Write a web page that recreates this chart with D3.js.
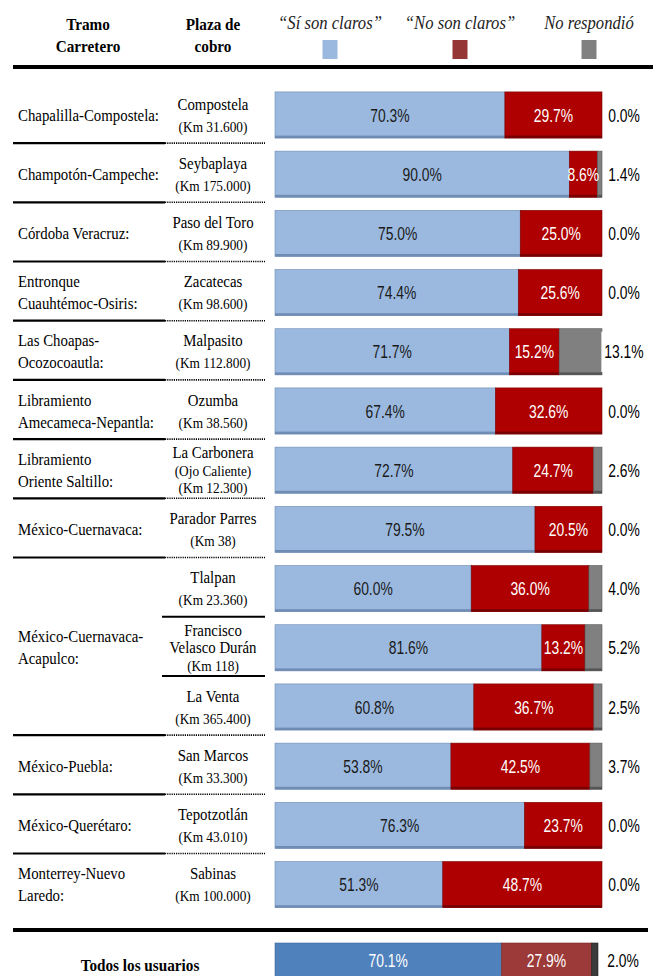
<!DOCTYPE html>
<html><head><meta charset="utf-8">
<script src="https://cdn.jsdelivr.net/npm/d3@7"></script>
<style>html,body{margin:0;padding:0;background:#fff;overflow:hidden}</style>
</head><body>
<svg id="chart" width="653" height="976"></svg>
<script>
// ---- data ----
const tramos = [["Chapalilla-Compostela:"],["Champotón-Campeche:"],["Córdoba Veracruz:"],["Entronque","Cuauhtémoc-Osiris:"],["Las Choapas-","Ocozocoautla:"],["Libramiento","Amecameca-Nepantla:"],["Libramiento","Oriente Saltillo:"],["México-Cuernavaca:"],["México-Cuernavaca-","Acapulco:"],["México-Puebla:"],["México-Querétaro:"],["Monterrey-Nuevo","Laredo:"]];
const tramoSpan = [1,1,1,1,1,1,1,1,3,1,1,1];
const plazas = [["Compostela","(Km 31.600)"],["Seybaplaya","(Km 175.000)"],["Paso del Toro","(Km 89.900)"],["Zacatecas","(Km 98.600)"],["Malpasito","(Km 112.800)"],["Ozumba","(Km 38.560)"],["La Carbonera","(Ojo Caliente)","(Km 12.300)"],["Parador Parres","(Km 38)"],["Tlalpan","(Km 23.360)"],["Francisco","Velasco Durán","(Km 118)"],["La Venta","(Km 365.400)"],["San Marcos","(Km 33.300)"],["Tepotzotlán","(Km 43.010)"],["Sabinas","(Km 100.000)"]];
const siClaros = [70.3,90.0,75.0,74.4,71.7,67.4,72.7,79.5,60.0,81.6,60.8,53.8,76.3,51.3];
const noClaros = [29.7,8.6,25.0,25.6,15.2,32.6,24.7,20.5,36.0,13.2,36.7,42.5,23.7,48.7];
const noResp   = [0.0,1.4,0.0,0.0,13.1,0.0,2.6,0.0,4.0,5.2,2.5,3.7,0.0,0.0];
const totalLabel = "Todos los usuarios";
const total = [70.1,27.9,2.0];
const legendLabels = ["“Sí son claros”","“No son claros”","No respondió"];

// ---- setup ----
const svg = d3.select("#chart");
const serif = "'Liberation Serif','Times New Roman',serif";
const sans = "'Liberation Sans',Arial,sans-serif";
const keys = ["si","no","nr"];
const colors = {si:"#9BB9DF", no:"#AE0000", nr:"#808080"};
const darks = {si:"#6F8CB5", no:"#780000", nr:"#555"};
const totColors = {si:"#4F81BD", no:"#9B3A38", nr:"#3A3A3A"};
const totDarks = {si:"#3F6A9E", no:"#7a2b2a", nr:"#222"};

// text drawn at (tx,ty) and condensed horizontally by factor f
function txt(parent, tx, ty, str, f, opts){
  const t = parent.append("text").attr("x",0).attr("y",0)
    .attr("transform",`translate(${tx},${ty}) scale(${f},1)`).text(str);
  Object.entries(opts).forEach(([k,v])=>t.attr(k,v));
  return t;
}
function pct(parent, xx, yy, str, fill){
  return txt(parent, xx, yy, str, 0.75, {"text-anchor":"middle","font-family":sans,"font-size":18.5,"fill":fill});
}

const rows = plazas.map((p,i)=>({i, si:siClaros[i], no:noClaros[i], nr:noResp[i]}));
const x = d3.scaleLinear().domain([0,100]).range([275,602]);
const y = d3.scaleBand().domain(d3.range(rows.length)).range([85.4,914.2]).paddingInner(0.22).paddingOuter(0.11);
const bh = y.bandwidth();
const stack = d3.stack().keys(keys);
const series = stack(rows);

// header
const hdr = svg.append("g").attr("font-family",serif);
[["Tramo",88,30],["Carretero",88,52],["Plaza de",213,30],["cobro",213,52]].forEach(([t,cx,cy])=>{
  txt(hdr, cx, cy, t, 0.87, {"text-anchor":"middle","font-size":17.5,"font-weight":"bold","fill":"#000"});
});
const legX = [330,460,589];
legendLabels.forEach((t,k)=>{
  txt(hdr, legX[k], 29, t, 0.9, {"text-anchor":"middle","font-size":18.5,"font-style":"italic","fill":"#222"});
  hdr.append("rect").attr("x",legX[k]-7.5).attr("y",40).attr("width",15).attr("height",19)
    .attr("fill",[colors.si,"#953735",colors.nr][k]);
});
svg.append("rect").attr("x",13).attr("y",65).attr("width",640).attr("height",4).attr("fill","#000");

// bars
const g = svg.append("g");
series.forEach(s=>{
  const k = s.key;
  const seg = g.selectAll(null).data(s).join("g");
  seg.append("rect").attr("x",d=>x(d[0])).attr("y",(d,j)=>y(j))
    .attr("width",d=>Math.max(0,x(d[1])-x(d[0]))).attr("height",bh)
    .attr("fill",colors[k]).attr("stroke",d=>x(d[1])-x(d[0])>0.5?darks[k]:"none").attr("stroke-width",0.6);
  seg.append("rect").attr("x",d=>x(d[0])).attr("y",(d,j)=>y(j)+bh-2.5)
    .attr("width",d=>Math.max(0,x(d[1])-x(d[0]))).attr("height",2.5).attr("fill",darks[k]);
});
// labels
rows.forEach((r,i)=>{
  const cy = y(i)+bh/2+6.5;
  pct(g, (x(0)+x(r.si))/2, cy, r.si.toFixed(1)+"%", "#1a1a1a");
  pct(g, (x(r.si)+x(r.si+r.no))/2, cy, r.no.toFixed(1)+"%", "#fff");
  const t = pct(g, 624, cy, r.nr.toFixed(1)+"%", "#000");
  const w = t.node().getComputedTextLength()*0.75;
  g.insert("rect", function(){ return t.node(); }).attr("x",624-w/2-3).attr("y",y(i)+3).attr("width",w+6).attr("height",bh-6).attr("fill","#fff");
});

// left columns
const lt = svg.append("g").attr("font-family",serif).attr("fill","#000");
let ri = 0;
tramos.forEach((t,k)=>{
  const span = tramoSpan[k];
  const cy = (y(ri) + y(ri+span-1) + bh)/2;
  const n = t.length;
  t.forEach((line,l)=>{
    txt(lt, 18, cy + (l-(n-1)/2)*22 + 5.5, line, 0.9, {"font-size":16.5});
  });
  const lastRow = ri+span-1;
  if (lastRow < rows.length-1) {
    const sy = y(lastRow)+bh+5;
    lt.append("line").attr("x1",13).attr("x2",165).attr("y1",sy).attr("y2",sy).attr("stroke","#000").attr("stroke-width",2.2);
    lt.append("line").attr("x1",165).attr("x2",265).attr("y1",sy).attr("y2",sy).attr("stroke","#000").attr("stroke-width",1.6).attr("stroke-dasharray","1.2,1");
  }
  for (let j=ri; j<lastRow; j++){
    const sy = y(j)+bh+5;
    lt.append("line").attr("x1",162).attr("x2",265).attr("y1",sy).attr("y2",sy).attr("stroke","#000").attr("stroke-width",2);
  }
  ri += span;
});
plazas.forEach((p,i)=>{
  const cy = y(i)+bh/2;
  const n = p.length;
  const step = n===3 ? 17.5 : 22;
  p.forEach((line,l)=>{
    const isKm = line.startsWith("(");
    txt(lt, 213, cy + (l-(n-1)/2)*step + 5.5, line, isKm?0.92:0.9, {"text-anchor":"middle","font-size":isKm?14.5:16.5});
  });
});

// total
svg.append("rect").attr("x",13).attr("y",928).attr("width",635).attr("height",4).attr("fill","#000");
const xt = d3.scaleLinear().domain([0,100]).range([275,598]);
const totRow = [{si:total[0],no:total[1],nr:total[2]}];
const tSeries = stack(totRow);
const ty = 943;
tSeries.forEach(s=>{
  const d = s[0];
  svg.append("rect").attr("x",xt(d[0])).attr("y",ty).attr("width",xt(d[1])-xt(d[0])).attr("height",bh)
    .attr("fill",totColors[s.key]).attr("stroke",totDarks[s.key]).attr("stroke-width",0.6);
});
const tcy = ty+24;
pct(svg, (xt(0)+xt(total[0]))/2, tcy, total[0].toFixed(1)+"%", "#fff");
pct(svg, (xt(total[0])+xt(total[0]+total[1]))/2, tcy, total[1].toFixed(1)+"%", "#fff");
pct(svg, 623, tcy, total[2].toFixed(1)+"%", "#000");
txt(svg, 140, 971, totalLabel, 0.87, {"text-anchor":"middle","font-family":serif,"font-size":17.5,"font-weight":"bold"});
</script>
</body></html>
